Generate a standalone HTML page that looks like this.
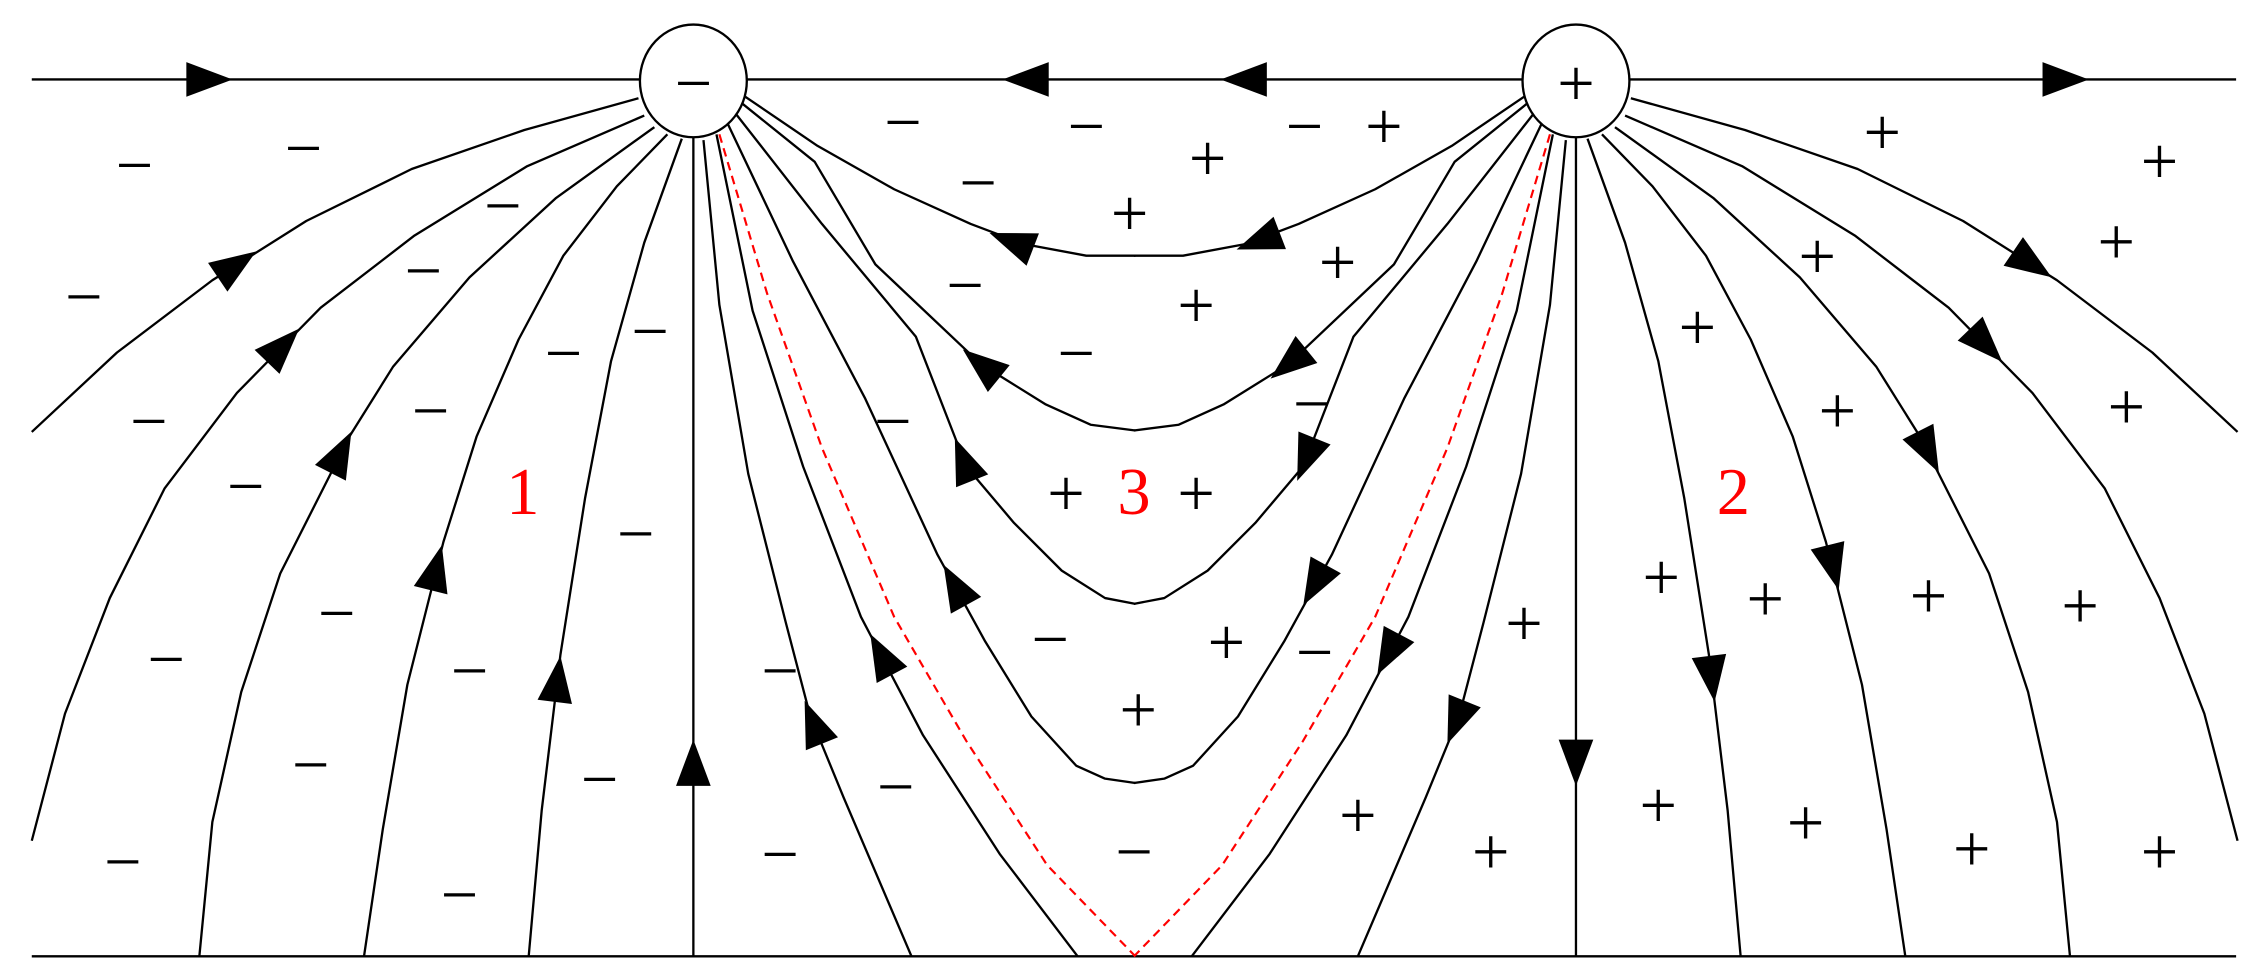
<!DOCTYPE html>
<html><head><meta charset="utf-8"><style>
html,body{margin:0;padding:0;background:#fff;}
svg{display:block;}
text{font-family:"Liberation Serif",serif;}
</style></head><body>
<svg width="2265" height="978" viewBox="0 0 1568 677" preserveAspectRatio="none" xmlns="http://www.w3.org/2000/svg">
<defs>
<g id="half">
 <g fill="none" stroke="#000" stroke-width="1.6" stroke-linejoin="round">
  <path d="M442,68 L363,90 L285,117 L212,153 L147,194 L81,244 L22,299"/>
  <path d="M446,80 L365,115 L287,163 L222,213 L164,272 L114,338 L76,414 L45,494 L22,582"/>
  <path d="M453,88 L385,137 L325,192 L272,254 L242,302 L194,397 L167,479 L147,569 L138,662"/>
  <path d="M462,93 L427,129 L390,177 L359,235 L330,302 L307,375 L282,474 L265,574 L252,662"/>
  <path d="M472,96 L446,168 L423,250 L405,345 L388,453 L375,561 L366,662"/>
  <path d="M480,94 L480,662"/>
  <path d="M487,97 L498,211 L518,328 L544,431 L561,496 L584,552 L631,662"/>
  <path d="M496,93 L521,215 L556,323 L596,427 L639,509 L692,591 L746,662"/>
  <path d="M503,84 L549,181 L599,276 L649,384 L682,444 L714,496 L745,530 L765,539 L786,542"/>
  <path d="M508,77 L569,155 L634,233 L669,323 L702,362 L735,395 L765,414 L786,418"/>
  <path d="M513,71 L564,112 L606,183 L679,252 L724,280 L755,294 L786,298"/>
  <path d="M516,67 L566,101 L619,131 L672,155 L709,169 L752,177 L786,177"/>
 </g>
 <path d="M498,93 L531,203 L569,310 L619,427 L669,513 L725,599 L786,662" fill="none" stroke="#f00" stroke-width="1.5" stroke-dasharray="6,4"/>
</g>
<path id="ah" d="M16,0 L-16,-12 L-16,12 Z" fill="#000"/>
</defs>
<line x1="22" y1="55" x2="1548" y2="55" stroke="#000" stroke-width="1.6"/>
<line x1="22" y1="662" x2="1548" y2="662" stroke="#000" stroke-width="1.6"/>
<use href="#half"/>
<g transform="translate(1571,0) scale(-1,1)"><use href="#half"/></g>
<g>
 <use href="#ah" transform="translate(145,55) rotate(0)"/>
 <use href="#ah" transform="translate(710,55) rotate(180)"/>
 <use href="#ah" transform="translate(164,183) rotate(-34)"/>
 <use href="#ah" transform="translate(196,239) rotate(-46)"/>
 <use href="#ah" transform="translate(236,313) rotate(-63)"/>
 <use href="#ah" transform="translate(302,393) rotate(-76)"/>
 <use href="#ah" transform="translate(386,470) rotate(-83)"/>
 <use href="#ah" transform="translate(480,528) rotate(-90)"/>
 <use href="#ah" transform="translate(563,500) rotate(-112)"/>
 <use href="#ah" transform="translate(610,453) rotate(-118)"/>
 <use href="#ah" transform="translate(661,405) rotate(-119)"/>
 <use href="#ah" transform="translate(667,318) rotate(-112)"/>
 <use href="#ah" transform="translate(679,252) rotate(-141)"/>
 <use href="#ah" transform="translate(700,167) rotate(-159)"/>
</g>
<g>
 <use href="#ah" transform="translate(1430,55) rotate(0)"/>
 <use href="#ah" transform="translate(861,55) rotate(180)"/>
 <use href="#ah" transform="translate(1407,183) rotate(34)"/>
 <use href="#ah" transform="translate(1375,239) rotate(46)"/>
 <use href="#ah" transform="translate(1335,313) rotate(63)"/>
 <use href="#ah" transform="translate(1269,393) rotate(76)"/>
 <use href="#ah" transform="translate(1185,470) rotate(83)"/>
 <use href="#ah" transform="translate(1091,528) rotate(90)"/>
 <use href="#ah" transform="translate(1008,500) rotate(112)"/>
 <use href="#ah" transform="translate(961,453) rotate(118)"/>
 <use href="#ah" transform="translate(910,405) rotate(119)"/>
 <use href="#ah" transform="translate(904,318) rotate(112)"/>
 <use href="#ah" transform="translate(892,252) rotate(141)"/>
 <use href="#ah" transform="translate(871,167) rotate(159)"/>
</g>
<ellipse cx="480" cy="56" rx="37" ry="39" fill="#fff" stroke="#000" stroke-width="1.6"/>
<ellipse cx="1091" cy="56" rx="37" ry="39" fill="#fff" stroke="#000" stroke-width="1.6"/>
<g font-size="46" text-anchor="middle" dominant-baseline="central" fill="#000">
 <text x="480" y="58">−</text>
 <text x="1091" y="58">+</text>
 <text x="93" y="115">−</text><text x="210" y="103">−</text><text x="58" y="206">−</text>
 <text x="348" y="143">−</text><text x="293" y="188">−</text><text x="103" y="292">−</text>
 <text x="390" y="245">−</text><text x="450" y="230">−</text><text x="298" y="285">−</text>
 <text x="170" y="337">−</text><text x="440" y="370">−</text><text x="115" y="457">−</text>
 <text x="233" y="425">−</text><text x="325" y="465">−</text><text x="215" y="530">−</text>
 <text x="415" y="540">−</text><text x="85" y="597">−</text><text x="318" y="620">−</text>
 <text x="540" y="465">−</text><text x="540" y="592">−</text><text x="620" y="545">−</text>
 <text x="625" y="85">−</text><text x="752" y="88">−</text><text x="903" y="88">−</text>
 <text x="677" y="127">−</text><text x="668" y="198">−</text><text x="745" y="245">−</text>
 <text x="908" y="280">−</text><text x="618" y="292">−</text><text x="727" y="443">−</text>
 <text x="910" y="452">−</text><text x="785" y="590">−</text>
 <text x="958" y="88">+</text><text x="836" y="110">+</text><text x="782" y="148">+</text>
 <text x="1303" y="92">+</text><text x="1495" y="112">+</text><text x="926" y="182">+</text>
 <text x="828" y="212">+</text><text x="1465" y="168">+</text><text x="1258" y="178">+</text>
 <text x="1175" y="227">+</text><text x="1272" y="285">+</text><text x="1472" y="282">+</text>
 <text x="738" y="342">+</text><text x="828" y="342">+</text><text x="1150" y="400">+</text>
 <text x="1222" y="415">+</text><text x="1335" y="413">+</text><text x="1440" y="420">+</text>
 <text x="1055" y="432">+</text><text x="849" y="445">+</text><text x="788" y="492">+</text>
 <text x="1148" y="558">+</text><text x="1250" y="570">+</text><text x="940" y="565">+</text>
 <text x="1032" y="590">+</text><text x="1365" y="588">+</text><text x="1495" y="590">+</text>
</g>
<g font-size="46" text-anchor="middle" dominant-baseline="central" fill="#f00">
 <text x="362" y="341">1</text>
 <text x="785" y="341">3</text>
 <text x="1200" y="341">2</text>
</g>
</svg>
</body></html>
